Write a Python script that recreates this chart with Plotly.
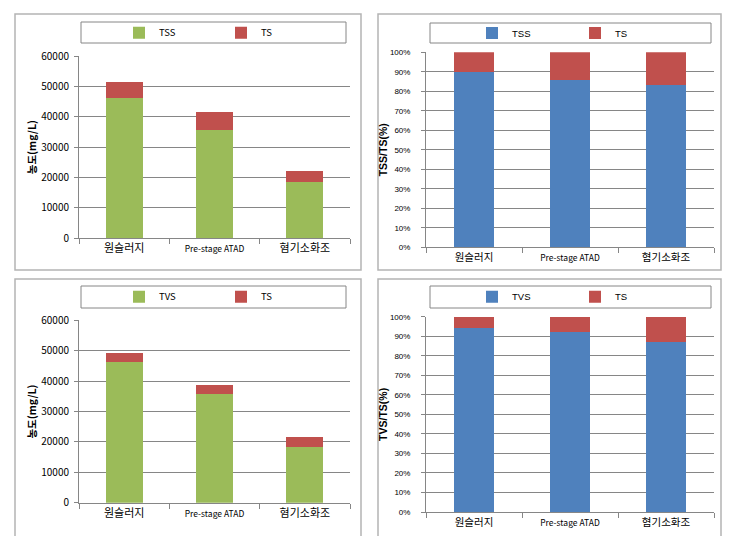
import plotly.graph_objects as go

# ---------------- data ----------------
categories = ["원슬러지", "Pre-stage ATAD", "혐기소화조"]

# top-left: concentration (mg/L)
tss = [46200, 35700, 18400]
ts_top = [51500, 41700, 22100]
# bottom-left
tvs = [46400, 35800, 18400]
ts_bottom = [49300, 38700, 21600]
# right: ratio (%)
tss_pct = [90, 86, 83]
tvs_pct = [94, 92, 87]

conc_ticks = [0, 10000, 20000, 30000, 40000, 50000, 60000]
conc_labels = ["0", "10000", "20000", "30000", "40000", "50000", "60000"]
pct_ticks = [0, 10, 20, 30, 40, 50, 60, 70, 80, 90, 100]
pct_labels = ["0%", "10%", "20%", "30%", "40%", "50%", "60%", "70%", "80%", "90%", "100%"]

# ---------------- style ----------------
W, H = 730, 536
GREEN = "#9BBB59"
RED = "#C0504D"
BLUE = "#4F81BD"
GRID = "#868686"
FRAME = "#B4B4B4"
KR = "Noto Sans CJK KR"
NARROW = "Liberation Sans Narrow, Liberation Sans"


def dx(a, b):
    return [a / W, b / W]


def dy(top, bottom):
    return [1 - bottom / H, 1 - top / H]


def ticktext(cats, small):
    out = []
    for c in cats:
        if c.isascii():
            out.append('<span style="font-size:%spx">' % small + c + "</span>")
        else:
            out.append(c)
    return out


red_top = [t - s for s, t in zip(tss, ts_top)]
red_bottom = [t - s for s, t in zip(tvs, ts_bottom)]
red_tss_pct = [100 - p for p in tss_pct]
red_tvs_pct = [100 - p for p in tvs_pct]

fig = go.Figure()
fig.add_bar(x=categories, y=tss, name="TSS", marker_color=GREEN, xaxis="x", yaxis="y", legend="legend")
fig.add_bar(x=categories, y=red_top, name="TS", marker_color=RED, xaxis="x", yaxis="y", legend="legend")
fig.add_bar(x=categories, y=tss_pct, name="TSS", marker_color=BLUE, xaxis="x2", yaxis="y2", legend="legend2")
fig.add_bar(x=categories, y=red_tss_pct, name="TS", marker_color=RED, xaxis="x2", yaxis="y2", legend="legend2")
fig.add_bar(x=categories, y=tvs, name="TVS", marker_color=GREEN, xaxis="x3", yaxis="y3", legend="legend3")
fig.add_bar(x=categories, y=red_bottom, name="TS", marker_color=RED, xaxis="x3", yaxis="y3", legend="legend3")
fig.add_bar(x=categories, y=tvs_pct, name="TVS", marker_color=BLUE, xaxis="x4", yaxis="y4", legend="legend4")
fig.add_bar(x=categories, y=red_tvs_pct, name="TS", marker_color=RED, xaxis="x4", yaxis="y4", legend="legend4")
fig.update_traces(marker_line_width=0)


def xaxis(domain, anchor, size, small):
    return dict(
        domain=domain, anchor=anchor, type="category",
        tickmode="array", tickvals=categories, ticktext=ticktext(categories, small),
        tickson="boundaries", ticks="outside", ticklen=5, tickcolor=GRID,
        showline=True, linecolor=GRID, linewidth=1, showgrid=False,
        tickfont=dict(family=KR, size=size, color="#000"), automargin=False,
    )


def yconc(domain, anchor, title):
    return dict(
        domain=domain, anchor=anchor, range=[0, 60000],
        tickmode="array", tickvals=conc_ticks, ticktext=conc_labels,
        ticks="outside", ticklen=4, tickcolor=GRID, ticklabelstandoff=3,
        showline=True, linecolor=GRID, linewidth=1,
        showgrid=True, gridcolor=GRID, gridwidth=1, zeroline=False,
        tickfont=dict(family=KR, size=10, color="#000"),
        title=dict(text=title, font=dict(family=KR, size=10.5, color="#000", weight="bold"), standoff=2),
        automargin=False,
    )


def ypct(domain, anchor, title):
    return dict(
        domain=domain, anchor=anchor, range=[0, 100],
        tickmode="array", tickvals=pct_ticks, ticktext=pct_labels,
        ticks="outside", ticklen=4, tickcolor=GRID, ticklabelstandoff=9,
        showline=True, linecolor=GRID, linewidth=1,
        showgrid=True, gridcolor=GRID, gridwidth=1, zeroline=False,
        tickfont=dict(family=NARROW, size=8, color="#000"),
        title=dict(text=title, font=dict(family=NARROW, size=10.5, color="#000", weight="bold"), standoff=0),
        automargin=False,
    )


def legend(xpx, ypx, entry, fam, size):
    return dict(
        orientation="h", x=xpx / W, y=1 - ypx / H, xanchor="left", yanchor="middle",
        bgcolor="rgba(0,0,0,0)", borderwidth=0, entrywidth=entry, entrywidthmode="pixels",
        itemwidth=30, traceorder="normal", font=dict(family=fam, size=size, color="#000"),
        itemclick=False, itemdoubleclick=False,
    )


fig.update_layout(
    width=W, height=H, margin=dict(l=0, r=0, t=0, b=0),
    paper_bgcolor="white", plot_bgcolor="white",
    barmode="stack", bargap=0.59,
    xaxis=xaxis(dx(71, 342), "y", 11, 8.5),
    yaxis=yconc(dy(48.3, 230), "x", "농도(mg/L)"),
    xaxis2=xaxis(dx(418, 706), "y2", 10.5, 8.5),
    yaxis2=ypct(dy(44.3, 239.3), "x2", "TSS/TS(%)"),
    xaxis3=xaxis(dx(71, 342), "y3", 11, 8.5),
    yaxis3=yconc(dy(312.3, 494.7), "x3", "농도(mg/L)"),
    xaxis4=xaxis(dx(418, 706), "y4", 10.5, 8.5),
    yaxis4=ypct(dy(308.7, 504), "x4", "TVS/TS(%)"),
    legend=legend(111, 24.7, 57, KR, 9.5),
    legend2=legend(464, 25, 58, NARROW, 9.5),
    legend3=legend(111, 288.7, 57, KR, 9.5),
    legend4=legend(464, 288.7, 58, NARROW, 9.5),
    showlegend=True,
)

shapes = []
# panel frames
for (x0, y0, x1, y1) in [(7, 6, 353, 262), (370, 6, 713, 262), (7, 271, 353, 530), (370, 271, 713, 530)]:
    shapes.append(dict(type="rect", xref="paper", yref="paper", x0=x0 / W, x1=x1 / W,
                       y0=1 - y1 / H, y1=1 - y0 / H, line=dict(color=FRAME, width=1.5)))
# legend boxes
for (x0, y0, x1, y1) in [(73, 14, 338, 35), (422, 15, 703, 35), (73, 278, 338, 300), (422, 278, 703, 300)]:
    shapes.append(dict(type="rect", xref="paper", yref="paper", x0=x0 / W, x1=x1 / W,
                       y0=1 - y1 / H, y1=1 - y0 / H, line=dict(color=GRID, width=1)))
fig.update_layout(shapes=shapes)

fig.write_html("out.html")
